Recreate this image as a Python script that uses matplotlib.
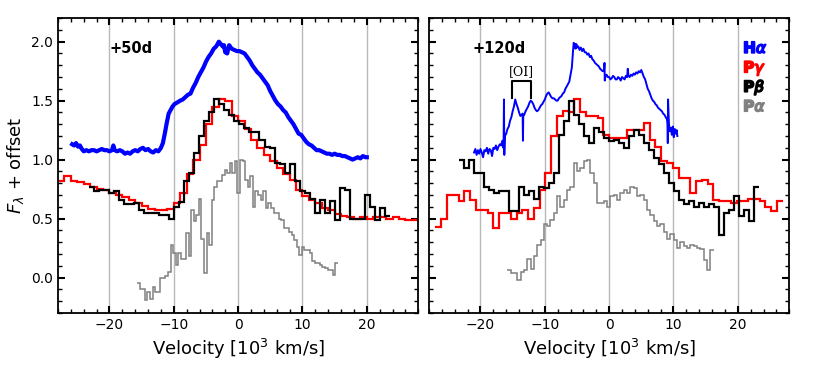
import numpy as np
import matplotlib
matplotlib.use("Agg")
import matplotlib.pyplot as plt
import matplotlib.patheffects as pe
from matplotlib.ticker import MultipleLocator

FS = 10
plt.rc("font", family="DejaVu Sans", size=FS)
plt.rc("mathtext", fontset="dejavusans")

# ---------------- +50d ----------------
# H-alpha (velocity, flux)
ha50_v = [-25.8, -25.5, -25.2, -24.9, -24.6, -24.3, -24.0, -23.6, -23.2, -22.8,
          -22.4, -22.0, -21.6, -21.2, -20.8, -20.4, -20.0, -19.6, -19.4, -19.2,
          -18.8, -18.4, -18.0, -17.6, -17.2, -16.8, -16.4, -16.0, -15.6, -15.2,
          -14.8, -14.4, -14.0, -13.6, -13.2, -12.8, -12.4, -12.0, -11.7, -11.4,
          -11.1, -10.8, -10.5, -10.2, -9.9, -9.6, -9.3, -9.0, -8.6, -8.2,
          -7.8, -7.4, -7.0, -6.6, -6.2, -5.8, -5.4, -5.0, -4.6, -4.2,
          -3.8, -3.4, -3.0, -2.7, -2.4, -2.2, -2.0, -1.7, -1.4, -1.0,
          -0.6, -0.2, 0.2, 0.6, 1.0, 1.4, 1.8, 2.2, 2.6, 3.0,
          3.4, 3.8, 4.2, 4.6, 5.0, 5.4, 5.8, 6.2, 6.6, 7.0,
          7.4, 7.8, 8.2, 8.6, 9.0, 9.4, 9.8, 10.2, 10.6, 11.0,
          11.4, 11.8, 12.2, 12.6, 13.0, 13.4, 13.8, 14.2, 14.6, 15.0,
          15.4, 15.8, 16.2, 16.6, 17.0, 17.4, 17.8, 18.2, 18.6, 19.0,
          19.4, 19.8, 20.0]
ha50_f = [1.13, 1.12, 1.14, 1.11, 1.12, 1.09, 1.07, 1.08, 1.07, 1.08,
          1.08, 1.07, 1.08, 1.09, 1.08, 1.08, 1.07, 1.08, 1.12, 1.08,
          1.07, 1.08, 1.07, 1.05, 1.06, 1.05, 1.07, 1.08, 1.07, 1.09,
          1.10, 1.08, 1.09, 1.07, 1.06, 1.08, 1.07, 1.10, 1.14, 1.22,
          1.31, 1.39, 1.42, 1.45, 1.47, 1.48, 1.49, 1.50, 1.51, 1.53,
          1.55, 1.56, 1.61, 1.65, 1.70, 1.74, 1.78, 1.83, 1.87, 1.90,
          1.94, 1.96, 2.00, 1.98, 1.96, 1.97, 1.91, 1.90, 1.97, 1.94,
          1.93, 1.92, 1.92, 1.91, 1.90, 1.87, 1.84, 1.80, 1.77, 1.74,
          1.72, 1.69, 1.66, 1.63, 1.58, 1.54, 1.50, 1.47, 1.45, 1.42,
          1.40, 1.36, 1.33, 1.30, 1.26, 1.22, 1.21, 1.18, 1.15, 1.13,
          1.12, 1.10, 1.08, 1.08, 1.07, 1.06, 1.05, 1.05, 1.04, 1.05,
          1.04, 1.04, 1.03, 1.03, 1.02, 1.01, 1.00, 1.01, 1.02, 1.01,
          1.03, 1.02, 1.02]

# P-gamma (bin start, bin width, fluxes)
pg50_start, pg50_w = -28.0, 1.0
pg50_f = [0.82, 0.86, 0.82, 0.81, 0.79, 0.77, 0.75, 0.74, 0.72, 0.70, 0.68, 0.66,
          0.63, 0.61, 0.58, 0.57, 0.57, 0.58, 0.63, 0.72, 0.88, 1.00, 1.12, 1.30,
          1.45, 1.51, 1.50, 1.37, 1.33, 1.26, 1.17, 1.10, 1.04, 0.99, 0.93, 0.88,
          0.83, 0.74, 0.69, 0.66, 0.63, 0.59, 0.57, 0.54, 0.52, 0.51, 0.50, 0.51,
          0.50, 0.51, 0.51, 0.50, 0.51, 0.50, 0.49, 0.49]

# P-beta
pb50_start, pb50_w = -23.2, 0.78
pb50_f = [0.77, 0.73, 0.745, 0.745, 0.72, 0.73, 0.66, 0.62, 0.62, 0.63, 0.575, 0.55,
          0.55, 0.55, 0.53, 0.53, 0.50, 0.60, 0.64, 0.82, 0.89, 1.06, 1.20, 1.33,
          1.40, 1.51, 1.47, 1.42, 1.38, 1.33, 1.30, 1.27, 1.23, 1.23, 1.17, 1.11,
          1.10, 0.97, 0.96, 0.89, 0.96, 0.82, 0.73, 0.72, 0.67, 0.55, 0.66, 0.55,
          0.65, 0.49, 0.76, 0.745, 0.50, 0.50, 0.50, 0.70, 0.60, 0.49, 0.59, 0.52]

# P-alpha
pa50_start, pa50_w = -15.7, 0.4
pa50_f = [-0.05, -0.10, -0.10, -0.19, -0.12, -0.18, -0.08, -0.12, -0.12, -0.005,
          0.00, 0.01, 0.05, 0.28, 0.21, 0.11, 0.21, 0.16, 0.16, 0.38, 0.18, 0.575,
          0.48, 0.53, 0.67, 0.33, 0.04, 0.38, 0.28, 0.66, 0.77, 0.82, 0.82, 0.87,
          0.91, 0.89, 0.97, 0.89, 0.99, 0.72, 1.00, 0.99, 0.83, 0.77, 0.86, 0.60,
          0.73, 0.70, 0.66, 0.73, 0.59, 0.63, 0.59, 0.55, 0.55, 0.50, 0.49, 0.42,
          0.42, 0.39, 0.36, 0.32, 0.26, 0.19, 0.26, 0.235, 0.235, 0.21, 0.14, 0.12,
          0.12, 0.11, 0.09, 0.08, 0.065, 0.065, 0.02, 0.12]

# ---------------- +120d ----------------
ha120_v = [-21.0, -20.8, -20.6, -20.4, -20.2, -20.0, -19.8, -19.6, -19.4, -19.2,
           -19.0, -18.8, -18.6, -18.4, -18.2, -18.0, -17.8, -17.6, -17.4, -17.2,
           -17.0, -16.8, -16.6, -16.45, -16.4, -16.35, -16.3, -16.2, -16.0, -15.8,
           -15.6, -15.4, -15.2, -15.0, -14.8, -14.6, -14.4, -14.2, -14.0, -13.8,
           -13.6, -13.45, -13.4, -13.35, -13.2, -13.0, -12.8, -12.6, -12.4, -12.2,
           -12.0, -11.8, -11.6, -11.4, -11.2, -11.0, -10.8, -10.6, -10.4, -10.2,
           -10.0, -9.8, -9.6, -9.4, -9.2, -9.0, -8.8, -8.6, -8.4, -8.2,
           -8.0, -7.8, -7.6, -7.4, -7.2, -7.0, -6.8, -6.6, -6.4, -6.2,
           -6.0, -5.8, -5.7, -5.6, -5.5, -5.4, -5.3, -5.2, -5.1, -5.0,
           -4.8, -4.6, -4.4, -4.2, -4.0, -3.8, -3.6, -3.4, -3.2, -3.0,
           -2.8, -2.6, -2.4, -2.2, -2.0, -1.8, -1.6, -1.4, -1.2, -1.0,
           -0.8, -0.72, -0.68, -0.6, -0.4, -0.2, 0.0, 0.2, 0.4, 0.6,
           0.8, 1.0, 1.2, 1.4, 1.6, 1.8, 2.0, 2.2, 2.4, 2.6,
           2.8, 2.9, 3.0, 3.2, 3.4, 3.6, 3.8, 4.0, 4.2, 4.4,
           4.6, 4.8, 5.0, 5.2, 5.4, 5.6, 5.8, 6.0, 6.2, 6.4,
           6.6, 6.8, 7.0, 7.2, 7.4, 7.6, 7.8, 8.0, 8.2, 8.4,
           8.6, 8.8, 9.0, 9.08, 9.12, 9.16, 9.3, 9.45, 9.6, 9.75,
           9.9, 10.05, 10.2, 10.35, 10.5, 10.6]
ha120_f = [1.06, 1.09, 1.04, 1.08, 1.05, 1.09, 1.06, 1.02, 1.08, 1.07,
           1.10, 1.05, 1.09, 1.08, 1.03, 1.10, 1.09, 1.12, 1.08, 1.11,
           1.13, 1.12, 1.16, 1.10, 1.18, 1.51, 1.04, 1.20, 1.22, 1.26,
           1.28, 1.33, 1.36, 1.41, 1.45, 1.51, 1.47, 1.44, 1.40, 1.37,
           1.38, 1.39, 1.16, 1.37, 1.38, 1.41, 1.43, 1.45, 1.48, 1.50,
           1.49, 1.47, 1.44, 1.42, 1.41, 1.42, 1.44, 1.46, 1.47, 1.49,
           1.51, 1.54, 1.56, 1.57, 1.55, 1.53, 1.52, 1.52, 1.51, 1.50,
           1.50, 1.52, 1.53, 1.54, 1.56, 1.57, 1.60, 1.62, 1.64, 1.66,
           1.72, 1.78, 1.86, 1.93, 1.99, 1.95, 1.98, 1.94, 1.98, 1.95,
           1.96, 1.93, 1.95, 1.92, 1.94, 1.91, 1.91, 1.89, 1.90, 1.87,
           1.88, 1.85, 1.84, 1.82, 1.81, 1.80, 1.79, 1.77, 1.76, 1.75,
           1.75, 1.82, 1.67, 1.70, 1.72, 1.70, 1.70, 1.68, 1.69, 1.71,
           1.70, 1.68, 1.68, 1.70, 1.69, 1.67, 1.70, 1.69, 1.68, 1.71,
           1.70, 1.77, 1.71, 1.70, 1.72, 1.71, 1.73, 1.72, 1.74, 1.73,
           1.75, 1.74, 1.76, 1.73, 1.70, 1.68, 1.64, 1.60, 1.58, 1.55,
           1.52, 1.50, 1.49, 1.47, 1.46, 1.44, 1.43, 1.42, 1.41, 1.39,
           1.38, 1.36, 1.34, 1.30, 1.14, 1.51, 1.30, 1.24, 1.27, 1.21,
           1.28, 1.19, 1.26, 1.22, 1.25, 1.20]

pg120_start, pg120_w = -27.0, 0.9
pg120_f = [0.43, 0.50, 0.70, 0.70, 0.65, 0.73, 0.66, 0.575, 0.575, 0.55, 0.42, 0.55,
           0.55, 0.50, 0.55, 0.575, 0.50, 0.59, 0.745, 0.89, 1.20, 1.37, 1.41, 1.40,
           1.51, 1.40, 1.37, 1.37, 1.35, 1.21, 1.18, 1.18, 1.18, 1.25, 1.25, 1.25,
           1.31, 1.17, 1.11, 0.99, 0.97, 0.93, 0.84, 0.84, 0.72, 0.82, 0.83, 0.79,
           0.66, 0.65, 0.65, 0.63, 0.65, 0.65, 0.67, 0.67, 0.65, 0.60, 0.56, 0.65]

pb120_start, pb120_w = -23.37, 0.777
pb120_f = [1.00, 0.93, 1.00, 0.89, 0.89, 0.77, 0.745, 0.72, 0.73, 0.73, 0.56, 0.56,
           0.77, 0.70, 0.73, 0.67, 0.77, 0.76, 0.80, 0.89, 1.21, 1.33, 1.50, 1.38,
           1.30, 1.20, 1.14, 1.27, 1.23, 1.18, 1.16, 1.17, 1.14, 1.10, 1.20, 1.25,
           1.21, 1.14, 1.085, 1.01, 0.96, 0.89, 0.80, 0.73, 0.66, 0.62, 0.65, 0.60,
           0.63, 0.60, 0.62, 0.60, 0.36, 0.55, 0.575, 0.69, 0.52, 0.575, 0.48, 0.77]

pa120_start, pa120_w = -15.85, 0.518
pa120_f = [0.065, 0.04, 0.04, -0.02, 0.05, 0.065, 0.16, 0.07, 0.18, 0.28, 0.32, 0.45,
           0.44, 0.49, 0.55, 0.69, 0.60, 0.66, 0.745, 0.77, 0.97, 0.90, 0.93, 0.99,
           1.00, 0.89, 0.80, 0.63, 0.63, 0.645, 0.60, 0.69, 0.70, 0.66, 0.72, 0.745,
           0.72, 0.77, 0.76, 0.69, 0.70, 0.66, 0.575, 0.53, 0.48, 0.44, 0.45, 0.39,
           0.33, 0.37, 0.32, 0.25, 0.30, 0.265, 0.25, 0.28, 0.265, 0.25, 0.24, 0.15,
           0.065, 0.23]

labels = ["+50d", "+120d"]
line_names = [r"H$\alpha$", r"P$\gamma$", r"P$\beta$", r"P$\alpha$"]
line_colors = ["blue", "red", "black", "grey"]


def edges(start, w, vals):
    return start + w * np.arange(len(vals) + 1)


fig = plt.figure(figsize=(8.3, 3.69), dpi=100)
ax1 = fig.add_axes([0.0699, 0.152, 0.434, 0.799])
ax2 = fig.add_axes([0.5169, 0.152, 0.434, 0.799])

data = [
    (ha50_v, ha50_f, 3.0, (pg50_start, pg50_w, pg50_f), (pb50_start, pb50_w, pb50_f),
     (pa50_start, pa50_w, pa50_f)),
    (ha120_v, ha120_f, 1.4, (pg120_start, pg120_w, pg120_f),
     (pb120_start, pb120_w, pb120_f), (pa120_start, pa120_w, pa120_f)),
]

for ax, lab, (hv, hf, hlw, pg, pb, pa) in zip([ax1, ax2], labels, data):
    for v in [-20, -10, 0, 10, 20]:
        ax.axvline(v, color="0.72", lw=1.0, zorder=0)
    ax.plot(hv, hf, color="blue", lw=hlw, zorder=3)
    ax.stairs(pg[2], edges(*pg), baseline=None, color="red", lw=1.6, zorder=2)
    ax.stairs(pb[2], edges(*pb), baseline=None, color="black", lw=1.6, zorder=2.5)
    ax.stairs(pa[2], edges(*pa), baseline=None, color="grey", lw=1.1, zorder=2)
    ax.set_xlim(-28, 28)
    ax.set_ylim(-0.3, 2.2)
    ax.xaxis.set_major_locator(MultipleLocator(10))
    ax.xaxis.set_minor_locator(MultipleLocator(2))
    ax.yaxis.set_major_locator(MultipleLocator(0.5))
    ax.yaxis.set_minor_locator(MultipleLocator(0.1))
    ax.tick_params(which="both", direction="in", top=True, right=True)
    ax.tick_params(which="major", length=5, width=1.5)
    ax.tick_params(which="minor", length=3, width=1.0)
    for s in ax.spines.values():
        s.set_linewidth(1.3)
    ax.set_xlabel(r"Velocity [10$^3$ km/s]", fontsize=13)
    ax.text(0.142 if ax is ax1 else 0.122, 0.88, lab, transform=ax.transAxes,
            fontsize=10.5, fontweight="bold")

ax1.set_ylabel(r"$F_\lambda$ + offset", fontsize=13)
ax2.tick_params(labelleft=False)

# [OI] doublet marker
ax2.plot([-15.1, -15.1, -12.1, -12.1], [1.52, 1.665, 1.665, 1.52], color="black", lw=1.5)
ax2.text(-13.6, 1.69, "[OI]", family="DejaVu Serif", fontsize=9, ha="center", va="bottom")

# coloured line labels
for i, (name, col) in enumerate(zip(line_names, line_colors)):
    ax2.text(0.872, 0.882 - 0.066 * i, name, transform=ax2.transAxes, color=col,
             fontsize=11, fontweight="bold",
             path_effects=[pe.withStroke(linewidth=1.2, foreground=col)])

fig.savefig("out.png", dpi=100)
